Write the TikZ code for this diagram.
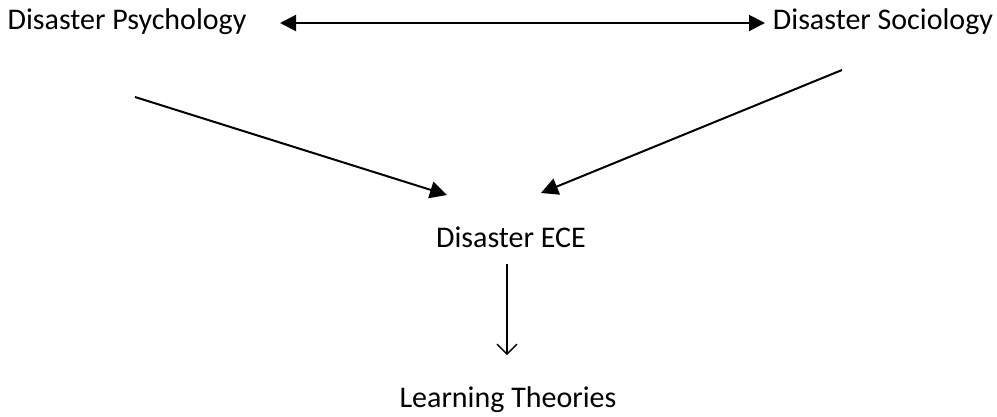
\documentclass[tikz,border=0pt]{standalone}
\usepackage{fontspec}
\setmainfont{Carlito}
\usetikzlibrary{arrows.meta}

\begin{document}
\begin{tikzpicture}[x=1pt,y=-1pt,
  label text/.style={font=\fontsize{30}{36}\selectfont, inner sep=0pt},
  link/.style={line width=2pt, -{Triangle[length=17pt,width=17pt]}},
  both link/.style={line width=2pt, {Triangle[length=16pt,width=16pt]}-{Triangle[length=16pt,width=16pt]}},
  thin link/.style={line width=1.3pt, -{Straight Barb[length=10pt,width=20pt]}}]
\useasboundingbox (0,0) rectangle (997,416);
\node[label text] (psy) at (127,22) {Disaster Psychology};
\node[label text] (soc) at (883,22) {Disaster Sociology};
\node[label text] (ece) at (511,237) {Disaster ECE};
\node[label text] (learn) at (508,400) {Learning Theories};
\coordinate (psy-l) at (280,23);
\coordinate (soc-r) at (765,23);
\coordinate (psy-out) at (135,97);
\coordinate (soc-out) at (842,70);
\coordinate (ece-l) at (447,195);
\coordinate (ece-r) at (541,193);
\coordinate (ece-out) at (507,264);
\coordinate (learn-in) at (507,355);
\path
(psy-l) edge[both link] (soc-r)
(psy-out) edge[link] (ece-l)
(soc-out) edge[link] (ece-r)
(ece-out) edge[thin link] (learn-in)
;
\end{tikzpicture}
\end{document}
